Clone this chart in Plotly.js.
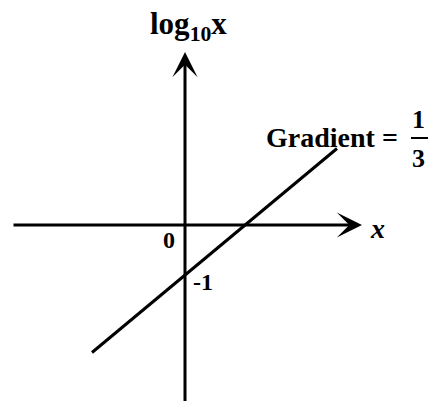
<!DOCTYPE html>
<html>
<head>
<meta charset="utf-8">
<script src="https://cdn.plot.ly/plotly-3.0.1.min.js"></script>
<style>html,body{margin:0;padding:0;background:#fff;}#chart{width:430px;height:401px;}</style>
</head>
<body>
<div id="chart"></div>
<script>
// Gradient line endpoints, in chart units
var lineX = [-4.65, 7.6];
var lineY = [-2.55, 1.53];
// Axis extents
var xAxisExtent = [-8.65, 8.85];
var yAxisExtent = [-3.6, 3.46];
// Labels
var yAxisLabel = "log<sub>10</sub>x";
var xAxisLabel = "<i>x</i>";
var originLabel = "0";
var interceptLabel = "-1";
var gradientLabel = "Gradient =";
var gradientNum = "1";
var gradientDen = "3";

var serif = "Liberation Serif, Times New Roman, serif";
var fnt = function (s) { return {family: serif, size: s, color: "#000"}; };

var trace = {
  x: lineX, y: lineY, mode: "lines", type: "scatter",
  line: {color: "#000", width: 3}, hoverinfo: "skip", showlegend: false
};

var annotations = [
  // x axis with arrow
  {x: xAxisExtent[1], y: 0, ax: xAxisExtent[0], ay: 0, xref: "x", yref: "y", axref: "x", ayref: "y",
   showarrow: true, arrowhead: 3, arrowsize: 1.4, arrowwidth: 3, arrowcolor: "#000", text: "", standoff: 0},
  // y axis with arrow
  {x: 0, y: yAxisExtent[1], ax: 0, ay: yAxisExtent[0], xref: "x", yref: "y", axref: "x", ayref: "y",
   showarrow: true, arrowhead: 3, arrowsize: 1.4, arrowwidth: 3, arrowcolor: "#000", text: "", standoff: 0},
  {x: 0.15, y: 3.98, xref: "x", yref: "y", text: "<b>" + yAxisLabel + "</b>", showarrow: false, font: fnt(31), xanchor: "center", yanchor: "middle"},
  {x: 9.6, y: -0.06, xref: "x", yref: "y", text: "<b>" + xAxisLabel + "</b>", showarrow: false, font: fnt(28), xanchor: "center", yanchor: "middle"},
  {x: -0.8, y: -0.3, xref: "x", yref: "y", text: "<b>" + originLabel + "</b>", showarrow: false, font: fnt(24), xanchor: "center", yanchor: "middle"},
  {x: 0.9, y: -1.14, xref: "x", yref: "y", text: "<b>" + interceptLabel + "</b>", showarrow: false, font: fnt(24), xanchor: "center", yanchor: "middle"},
  {x: 3.95, y: 1.76, xref: "x", yref: "y", text: "<b>" + gradientLabel + "</b>", showarrow: false, font: fnt(28), xanchor: "left", yanchor: "middle"},
  {x: 11.65, y: 2.12, xref: "x", yref: "y", text: "<b>" + gradientNum + "</b>", showarrow: false, font: fnt(26), xanchor: "center", yanchor: "middle"},
  {x: 11.65, y: 1.33, xref: "x", yref: "y", text: "<b>" + gradientDen + "</b>", showarrow: false, font: fnt(26), xanchor: "center", yanchor: "middle"}
];

var shapes = [
  {type: "line", layer: "above", xref: "paper", yref: "paper", x0: 411 / 430, x1: 428 / 430, y0: 1 - 138 / 401, y1: 1 - 138 / 401, line: {color: "#000", width: 2}}
];

var layout = {
  width: 430, height: 401,
  margin: {l: 0, r: 0, t: 0, b: 0, pad: 0},
  paper_bgcolor: "#fff", plot_bgcolor: "#fff",
  xaxis: {range: [-9.25, 12.25], visible: false, fixedrange: true},
  yaxis: {range: [-3.52, 4.5], visible: false, fixedrange: true},
  annotations: annotations, shapes: shapes, showlegend: false
};

Plotly.newPlot("chart", [trace], layout, {displayModeBar: false, staticPlot: true});
</script>
</body>
</html>
